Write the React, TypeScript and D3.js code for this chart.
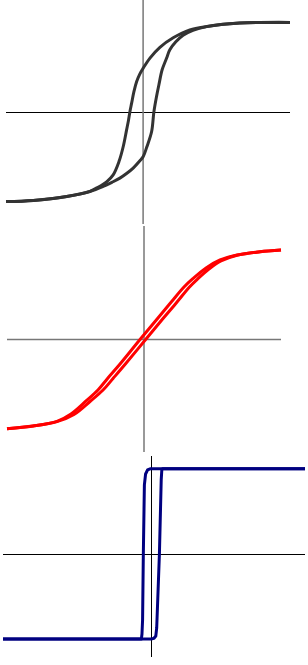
import React from 'react'
import * as d3 from 'd3'

// field H (arb. units) vs magnetisation M (normalised)

// soft loop, top panel
const softDown: [number, number][] = [
  [105, 1.0], [69.1, 0.992], [45.4, 0.954], [33.4, 0.917], [21.5, 0.828],
  [12.0, 0.722], [4.9, 0.602], [0.1, 0.49], [-2.3, 0.426], [-4.6, 0.34],
  [-6.6, 0.225], [-8.2, 0.099], [-9.4, 0.006], [-10.5, -0.098], [-11.8, -0.199],
  [-14.2, -0.385], [-17.3, -0.556], [-21.4, -0.701], [-26.1, -0.779],
  [-33.0, -0.846], [-38.0, -0.885], [-54.6, -0.943], [-78.5, -0.988], [-98, -1.0],
]
const softUp: [number, number][] = [
  [-98, -1.0], [-78.5, -0.988], [-54.6, -0.943], [-38.0, -0.887], [-28.5, -0.831],
  [-22.3, -0.785], [-16.6, -0.738], [-11.6, -0.684], [-7.1, -0.626], [-2.3, -0.545],
  [0.1, -0.497], [2.7, -0.388], [6.1, -0.218], [7.7, 0.0], [9.6, 0.173],
  [11.3, 0.304], [13.6, 0.471], [16.8, 0.602], [19.1, 0.694], [23.4, 0.783],
  [28.6, 0.856], [35.6, 0.912], [45.4, 0.953], [69.1, 0.992], [105, 1.0],
]

// narrow loop, middle panel
const narrowDown: [number, number][] = [
  [100, 0.992], [84.7, 0.973], [67.9, 0.936], [55.5, 0.881], [45.3, 0.792],
  [35.8, 0.674], [29.2, 0.58], [19.9, 0.412], [10.2, 0.234], [-2.6, 0.0],
  [-17.5, -0.279], [-26.6, -0.44], [-33.6, -0.569], [-42.3, -0.691],
  [-53.3, -0.836], [-63.5, -0.918], [-81.0, -0.97], [-100, -1.0],
]
const narrowUp: [number, number][] = [
  [-100, -1.0], [-81.0, -0.97], [-63.5, -0.922], [-51.1, -0.842], [-39.4, -0.697],
  [-29.9, -0.569], [-22.6, -0.44], [-13.6, -0.279], [1.5, 0.0], [14.2, 0.234],
  [24.1, 0.412], [33.2, 0.58], [39.1, 0.669], [47.4, 0.78], [56.2, 0.87],
  [67.9, 0.933], [84.7, 0.972], [100, 0.992],
]

// square loop, bottom panel
const squareDown: [number, number][] = [
  [102, 1.0], [32.1, 1.0], [-1.1, 1.0], [-2.8, 0.986], [-4.1, 0.939],
  [-4.9, 0.81], [-5.6, 0.0], [-6.1, -0.775], [-6.5, -0.94], [-6.9, -1.0],
  [-34.4, -1.0], [-99, -1.0],
]
const squareUp: [number, number][] = [
  [-99, -1.0], [-34.4, -1.0], [-0.5, -1.0], [1.5, -0.99], [2.7, -0.963],
  [3.3, -0.869], [5.1, 0.0], [6.3, 0.869], [6.7, 0.986], [7.2, 1.0],
  [32.1, 1.0], [102, 1.0],
]

const width = 308
const height = 665

const panels = [
  {
    down: softDown, up: softUp,
    hDomain: [-98, 105], xRange: [6, 290],
    mDomain: [-1.25, 1.25], yRange: [224, 0],
    color: '#333333', hAxis: '#000', hAxisW: 1, vAxis: '#777', vAxisW: 1.5,
    curve: d3.curveCatmullRom.alpha(0.5),
  },
  {
    down: narrowDown, up: narrowUp,
    hDomain: [-100, 100], xRange: [7, 281],
    mDomain: [-1.26, 1.26], yRange: [452, 226],
    color: '#ff0000', hAxis: '#777', hAxisW: 1.5, vAxis: '#777', vAxisW: 1.5,
    curve: d3.curveCatmullRom.alpha(0.5),
  },
  {
    down: squareDown, up: squareUp,
    hDomain: [-99, 102], xRange: [3, 305],
    mDomain: [-1.21, 1.15], yRange: [657, 456],
    color: '#000080', hAxis: '#000', hAxisW: 1, vAxis: '#000', vAxisW: 1,
    curve: d3.curveLinear,
  },
]

export default function App() {
  return (
    <svg
      width={width}
      height={height}
      style={{ position: 'absolute', left: 0, top: 0, display: 'block', background: '#fff' }}
    >
      {panels.map((p, i) => {
        const x = d3.scaleLinear().domain(p.hDomain).range(p.xRange)
        const y = d3.scaleLinear().domain(p.mDomain).range(p.yRange)
        const line = d3
          .line<[number, number]>()
          .x((d) => x(d[0]))
          .y((d) => y(d[1]))
          .curve(p.curve)
        const crisp = (w: number) => (w === 1 ? 'crispEdges' : 'auto')
        return (
          <g key={i}>
            <line
              x1={p.xRange[0]} x2={p.xRange[1]}
              y1={Math.round(y(0)) + 0.5} y2={Math.round(y(0)) + 0.5}
              stroke={p.hAxis} strokeWidth={p.hAxisW} shapeRendering={crisp(p.hAxisW)}
            />
            <line
              x1={x(0)} x2={x(0)} y1={p.yRange[0]} y2={p.yRange[1]}
              stroke={p.vAxis} strokeWidth={p.vAxisW} shapeRendering={crisp(p.vAxisW)}
            />
            {[p.down, p.up].map((branch, j) => (
              <path
                key={j}
                d={line(branch) || ''}
                fill="none"
                stroke={p.color}
                strokeWidth={3}
                strokeLinejoin="round"
                strokeLinecap="butt"
              />
            ))}
          </g>
        )
      })}
    </svg>
  )
}
